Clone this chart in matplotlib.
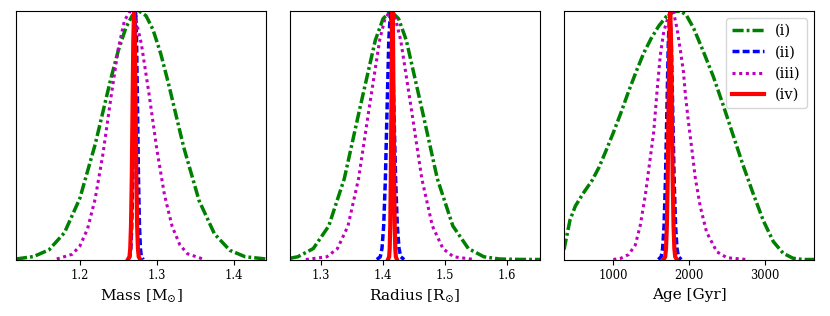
import matplotlib
matplotlib.use("Agg")
import matplotlib.pyplot as plt

# heights shared by the narrow peaks (normalised to 1 at the top)
peak_h = [0, 0.011, 0.044, 0.135, 0.325, 0.607, 0.882, 1.0,
          0.882, 0.607, 0.325, 0.135, 0.044, 0.011, 0]

# ---- Mass ----
mass_i_x = [1.117, 1.14, 1.16, 1.18, 1.20, 1.22, 1.24, 1.25, 1.26, 1.268, 1.277,
            1.286, 1.295, 1.305, 1.315, 1.335, 1.355, 1.375, 1.395, 1.415, 1.442]
mass_i_y = [0.002, 0.012, 0.039, 0.108, 0.246, 0.464, 0.724, 0.841, 0.934, 0.981, 1.0,
            0.981, 0.926, 0.83, 0.711, 0.452, 0.237, 0.103, 0.037, 0.011, 0.002]
mass_iii_x = [1.17, 1.19, 1.20, 1.21, 1.22, 1.23, 1.24, 1.25, 1.258, 1.2655,
              1.273, 1.28, 1.29, 1.30, 1.31, 1.32, 1.33, 1.34, 1.36]
mass_iii_y = [0.002, 0.021, 0.054, 0.123, 0.245, 0.424, 0.643, 0.849, 0.962, 1.0,
              0.962, 0.867, 0.665, 0.445, 0.26, 0.133, 0.059, 0.023, 0.002]
mass_ii_x = [1.2625, 1.265, 1.26625, 1.2675, 1.26875, 1.27, 1.27125, 1.2725,
             1.27375, 1.275, 1.27625, 1.2775, 1.27875, 1.28, 1.2825]
mass_iv_x = [1.2625, 1.2645, 1.2655, 1.2665, 1.2675, 1.2685, 1.2695, 1.2705,
             1.2715, 1.2725, 1.2735, 1.2745, 1.2755, 1.2765, 1.2785]

# ---- Radius ----
rad_i_x = [1.25, 1.2625, 1.2875, 1.3125, 1.3375, 1.3625, 1.3875, 1.40, 1.4125,
           1.425, 1.4375, 1.4625, 1.4875, 1.5125, 1.5375, 1.5625, 1.5875, 1.62, 1.653]
rad_i_y = [0.005, 0.011, 0.044, 0.135, 0.325, 0.607, 0.882, 0.969, 1.0,
           0.969, 0.882, 0.607, 0.325, 0.135, 0.044, 0.011, 0.002, 0.0003, 0]
rad_iii_x = [1.2755, 1.3095, 1.3265, 1.3435, 1.3605, 1.3775, 1.3945, 1.403, 1.4115,
             1.42, 1.4285, 1.4455, 1.4625, 1.4795, 1.4965, 1.5135, 1.5475]
rad_iii_y = [0, 0.011, 0.044, 0.135, 0.325, 0.607, 0.882, 0.969, 1.0,
             0.969, 0.882, 0.607, 0.325, 0.135, 0.044, 0.011, 0]
rad_ii_x = [1.390, 1.3955, 1.39825, 1.401, 1.40375, 1.4065, 1.40925, 1.412,
            1.41475, 1.4175, 1.42025, 1.423, 1.42575, 1.4285, 1.434]
rad_iv_x = [1.408, 1.4098, 1.4107, 1.4116, 1.4125, 1.4134, 1.4143, 1.4152,
            1.4161, 1.4170, 1.4179, 1.4188, 1.4197, 1.4206, 1.4224]

# ---- Age ----
age_i_x = [350, 430, 500, 600, 720, 810, 900, 1000, 1100, 1200, 1300, 1400,
           1500, 1600, 1700, 1800, 1880, 1960, 2060, 2190, 2320, 2450, 2580,
           2710, 2850, 2980, 3110, 3240, 3370, 3500, 3646]
age_i_y = [0.04, 0.16, 0.215, 0.265, 0.318, 0.37, 0.435, 0.51, 0.59, 0.675,
           0.755, 0.83, 0.89, 0.94, 0.978, 0.997, 1.0, 0.985, 0.93, 0.835,
           0.735, 0.62, 0.5, 0.38, 0.26, 0.155, 0.072, 0.025, 0.005, 0, 0]
age_iii_x = [1000, 1100, 1203, 1290, 1356, 1422, 1475, 1533, 1576, 1620, 1665,
             1731, 1790, 1840, 1885, 1925, 1950, 1990, 2035, 2080, 2145, 2230,
             2365, 2500, 2760]
age_iii_y = [0, 0.005, 0.02, 0.058, 0.138, 0.259, 0.38, 0.514, 0.675, 0.823,
             0.917, 0.984, 1.0, 0.93, 0.84, 0.755, 0.665, 0.555, 0.445, 0.33,
             0.215, 0.11, 0.031, 0.007, 0]
age_ii_x = [1593, 1631, 1650, 1669, 1688, 1707, 1726, 1745,
            1764, 1783, 1802, 1821, 1840, 1859, 1897]
age_iv_x = [1662, 1684, 1695, 1706, 1717, 1728, 1739, 1750,
            1761, 1772, 1783, 1794, 1805, 1816, 1838]

labels = ["(i)", "(ii)", "(iii)", "(iv)"]

plt.rcParams["font.family"] = "serif"
plt.rcParams["mathtext.fontset"] = "dejavuserif"
plt.rcParams["lines.scale_dashes"] = False

fig = plt.figure(figsize=(8.3, 3.16), dpi=100)
lefts = [16 / 830, 290 / 830, 564 / 830]
w = 250 / 830
b = 1 - 259.5 / 316
h = 248.5 / 316

panels = [
    (mass_i_x, mass_i_y, mass_ii_x, peak_h, mass_iii_x, mass_iii_y, mass_iv_x, peak_h,
     (1.117, 1.442), [1.2, 1.3, 1.4], r"Mass [M$_{\odot}$]"),
    (rad_i_x, rad_i_y, rad_ii_x, peak_h, rad_iii_x, rad_iii_y, rad_iv_x, peak_h,
     (1.25, 1.653), [1.3, 1.4, 1.5, 1.6], r"Radius [R$_{\odot}$]"),
    (age_i_x, age_i_y, age_ii_x, peak_h, age_iii_x, age_iii_y, age_iv_x, peak_h,
     (350, 3646), [1000, 2000, 3000], "Age [Gyr]"),
]

for k, p in enumerate(panels):
    ax = fig.add_axes([lefts[k], b, w, h])
    x1, y1, x2, y2, x3, y3, x4, y4, xlim, ticks, xlabel = p
    ax.plot(x1, y1, color="g", lw=2.5, dashes=(8, 2.2, 2, 2.2), label=labels[0])
    ax.plot(x2, y2, color="b", lw=2.5, dashes=(5, 2.3), label=labels[1])
    ax.plot(x3, y3, color="m", lw=2.2, dashes=(2.2, 2.6), label=labels[2])
    ax.plot(x4, y4, color="r", lw=3, label=labels[3])
    ax.set_xlim(xlim)
    ax.set_ylim(0, 1.0)
    ax.set_xticks(ticks)
    ax.set_yticks([])
    ax.tick_params(axis="x", labelsize=8.3)
    ax.set_xlabel(xlabel, fontsize=11)
    if k == 2:
        ax.legend(loc="upper right", fontsize=10.5, handlelength=2.2)

fig.savefig("out.png", dpi=100)
